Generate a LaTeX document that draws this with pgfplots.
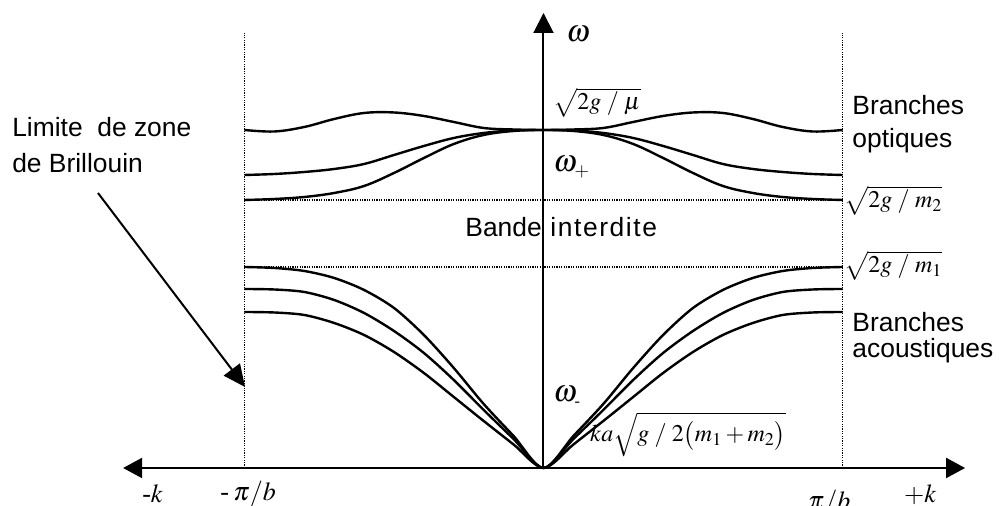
\documentclass[border=0pt]{standalone}
\usepackage{pgfplots}
\pgfplotsset{compat=1.18}
\usepackage{mathptmx}
\usepackage[no-math]{fontspec}
\setmainfont{Liberation Sans}
\newfontfamily\tms{Liberation Serif}
\usetikzlibrary{arrows.meta}
\newcommand{\lab}{\fontsize{13.2}{15}\selectfont}
\newcommand{\mlab}{\fontsize{12}{14}\selectfont}
\begin{document}
\begin{tikzpicture}
\useasboundingbox (0,0) rectangle (500pt,253pt);
\begin{axis}[at={(0,0)}, anchor=south west, width=500pt, height=253pt, scale only axis,
  xmin=-1.8177, xmax=1.5268, ymin=-38, ymax=468, axis lines=none, clip=false]
% dotted Brillouin zone limits and gap lines
\addplot[black, line width=0.6pt, dash pattern=on 0.6pt off 0.6pt] coordinates {(-1,0) (-1,435)};
\addplot[black, line width=0.6pt, dash pattern=on 0.6pt off 0.6pt] coordinates {(1,0) (1,435)};
\addplot[black, line width=0.6pt, dash pattern=on 0.6pt off 0.6pt] coordinates {(-1,268) (1,268)};
\addplot[black, line width=0.6pt, dash pattern=on 0.6pt off 0.6pt] coordinates {(-1,201) (1,201)};
% acoustic branches
\addplot[black, line width=1.2pt, smooth, tension=0.5] coordinates {
(-1,201) (-0.9,200) (-0.8,197) (-0.7,190) (-0.6,178) (-0.5,160) (-0.4,133) (-0.3,100) (-0.2,64) (-0.1,32) (0,0)
(0.1,32) (0.2,64) (0.3,100) (0.4,133) (0.5,160) (0.6,178) (0.7,190) (0.8,197) (0.9,200) (1,201)};
\addplot[black, line width=1.2pt, smooth, tension=0.5] coordinates {
(-1,179) (-0.9,178.5) (-0.8,176) (-0.7,168) (-0.6,155) (-0.5,137) (-0.4,115) (-0.3,88) (-0.2,58) (-0.1,29) (0,0)
(0.1,29) (0.2,58) (0.3,88) (0.4,115) (0.5,137) (0.6,155) (0.7,168) (0.8,176) (0.9,178.5) (1,179)};
\addplot[black, line width=1.2pt, smooth, tension=0.5] coordinates {
(-1,156) (-0.9,155.5) (-0.8,153) (-0.7,145) (-0.6,133) (-0.5,116) (-0.4,95) (-0.3,71) (-0.2,47) (-0.1,23.5) (0,0)
(0.1,23.5) (0.2,47) (0.3,71) (0.4,95) (0.5,116) (0.6,133) (0.7,145) (0.8,153) (0.9,155.5) (1,156)};
% optical branches
\addplot[black, line width=1.2pt, smooth, tension=0.6] coordinates {
(-1,338) (-0.9,336.5) (-0.8,341) (-0.7,349) (-0.6,355) (-0.5,355.5) (-0.4,352) (-0.3,346) (-0.2,340) (-0.1,338.5) (0,338)
(0.1,338.5) (0.2,340) (0.3,346) (0.4,352) (0.5,355.5) (0.6,355) (0.7,349) (0.8,341) (0.9,336.5) (1,338)};
\addplot[black, line width=1.2pt, smooth, tension=0.6] coordinates {
(-1,293) (-0.9,294) (-0.8,296) (-0.7,299) (-0.6,304) (-0.5,313) (-0.4,322) (-0.3,330) (-0.2,335) (-0.1,337.5) (0,338)
(0.1,337.5) (0.2,335) (0.3,330) (0.4,322) (0.5,313) (0.6,304) (0.7,299) (0.8,296) (0.9,294) (1,293)};
\addplot[black, line width=1.2pt, smooth, tension=0.6] coordinates {
(-1,268) (-0.9,269) (-0.8,271) (-0.7,275) (-0.6,282) (-0.5,295) (-0.4,310) (-0.3,324) (-0.2,333) (-0.1,337) (0,338)
(0.1,337) (0.2,333) (0.3,324) (0.4,310) (0.5,295) (0.6,282) (0.7,275) (0.8,271) (0.9,269) (1,268)};
% axes
\draw[line width=1pt, {Triangle[length=9.5pt,width=10pt]}-{Triangle[length=9.5pt,width=10pt]}] (axis cs:-1.406,0) -- (axis cs:1.41,0);
\draw[line width=1pt, -{Triangle[length=10pt,width=10pt]}] (axis cs:0,0) -- (axis cs:0,455);
% Brillouin arrow
\draw[line width=1pt, -{Triangle[length=11pt,width=10pt]}] (axis cs:-1.490,275) -- (axis cs:-0.998,81);
% labels
\node[anchor=base west, inner sep=0pt, font=\fontsize{15.5}{18}\selectfont] at (axis cs:0.075,426) {$\omega$};
\node[anchor=base west, inner sep=0pt, font=\fontsize{15.5}{18}\selectfont] at (axis cs:0.032,296) {$\omega_{\scriptscriptstyle +}$};
\node[anchor=base west, inner sep=0pt, font=\fontsize{15.5}{18}\selectfont] at (axis cs:0.032,66) {$\omega_{\mbox{\fontsize{8}{9}\selectfont\tms -}}$};
\node[anchor=base west, inner sep=0pt, font=\mlab] at (axis cs:0.032,358) {$\sqrt{2g\;/\;\mu}$};
\node[anchor=base west, inner sep=0pt, font=\mlab] at (axis cs:1.005,260) {$\sqrt{2g\;/\;m_2}$};
\node[anchor=base west, inner sep=0pt, font=\mlab] at (axis cs:1.005,195) {$\sqrt{2g\;/\;m_1}$};
\node[anchor=base west, inner sep=0pt, font=\mlab] at (axis cs:0.155,26) {$ka\sqrt{g\;/\;2\bigl(m_1+m_2\bigr)}$};
\node[anchor=base west, inner sep=0pt, font=\lab] at (axis cs:1.032,353) {Branches};
\node[anchor=base west, inner sep=0pt, font=\lab] at (axis cs:1.032,320) {optiques};
\node[anchor=base west, inner sep=0pt, font=\lab] at (axis cs:1.032,136) {Branches};
\node[anchor=base west, inner sep=0pt, font=\lab] at (axis cs:1.032,110) {acoustiques};
\node[anchor=base west, inner sep=0pt, font=\lab] at (axis cs:-1.778,331) {Limite\ \ de zone};
\node[anchor=base west, inner sep=0pt, font=\lab] at (axis cs:-1.778,295) {de Brillouin};
\node[anchor=base west, inner sep=0pt, font=\lab] at (axis cs:-0.2625,231) {Bande};
\node[anchor=base west, inner sep=0pt, font=\lab] at (axis cs:0.022,231) {\addfontfeature{LetterSpace=6}interdite};
\node[anchor=base west, inner sep=0pt, font=\fontsize{13}{15}\selectfont] at (axis cs:-1.343,-35) {{\tms\itshape -}$k$};
\node[anchor=base west, inner sep=0pt, font=\fontsize{13}{15}\selectfont] at (axis cs:-1.082,-33) {{\tms -}\,$\pi/b$};
\node[anchor=base west, inner sep=0pt, font=\fontsize{13}{15}\selectfont] at (axis cs:0.883,-42) {$\pi/b$};
\node[anchor=base west, inner sep=0pt, font=\fontsize{13}{15}\selectfont] at (axis cs:1.205,-35) {$+k$};
\end{axis}
\end{tikzpicture}
\end{document}
